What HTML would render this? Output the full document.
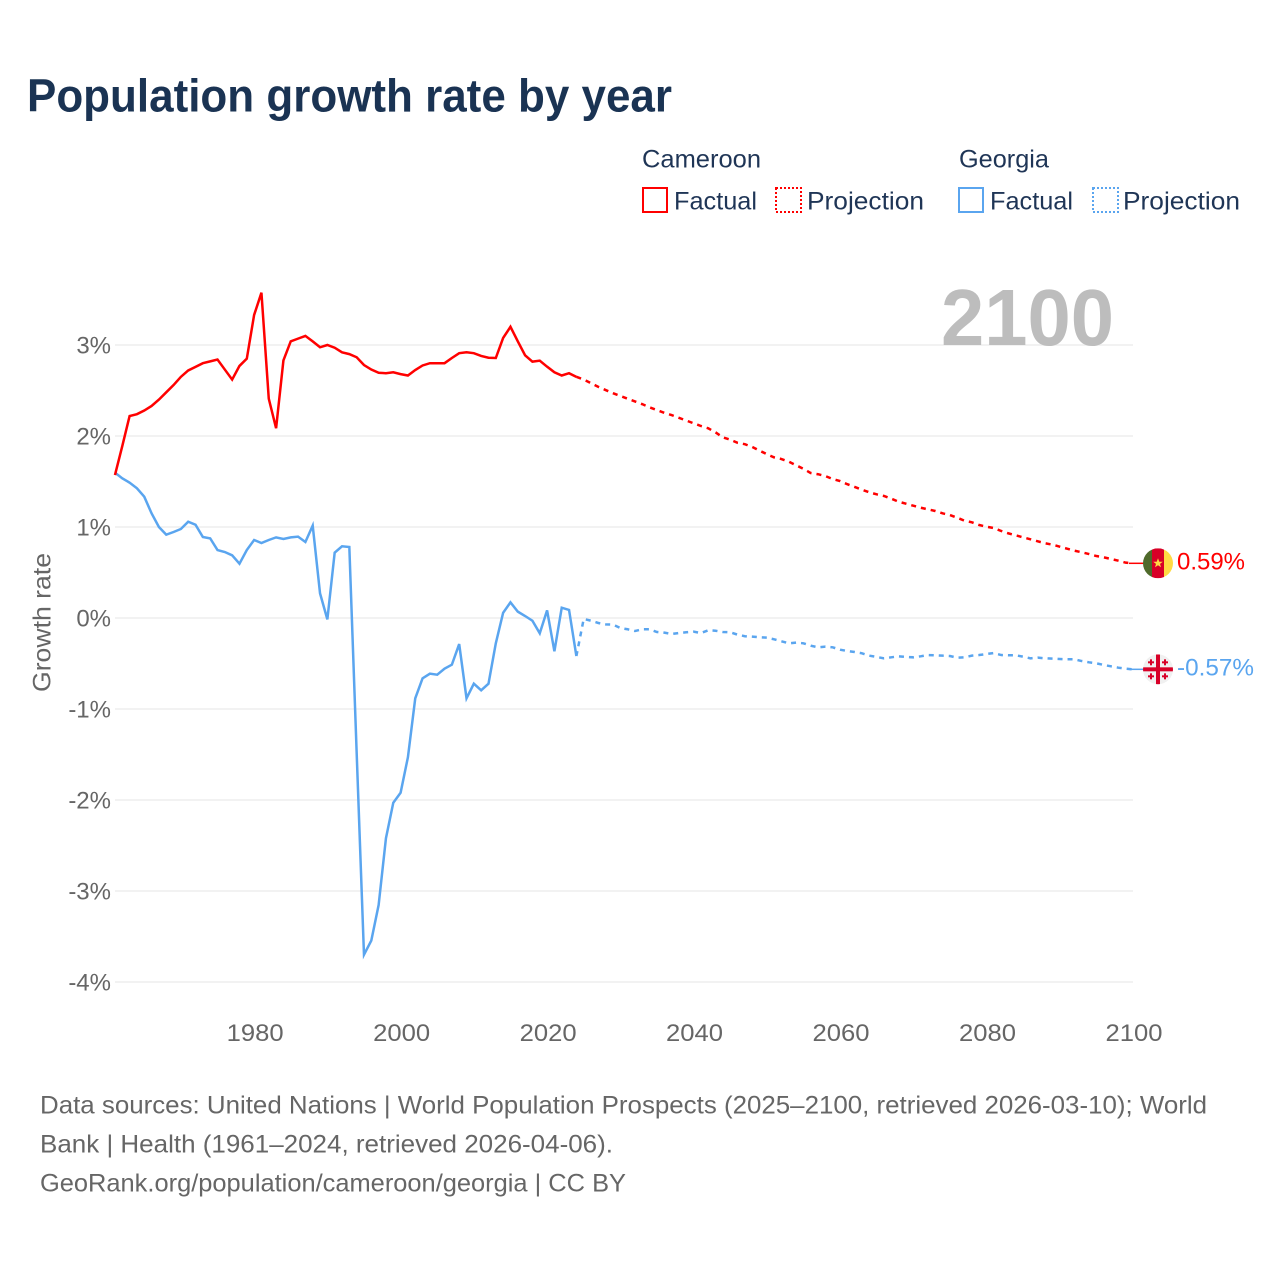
<!DOCTYPE html>
<html lang="en">
<head>
<meta charset="utf-8">
<title>Population growth rate by year</title>
<style>
html,body{margin:0;padding:0;background:#fff;width:1280px;height:1280px;overflow:hidden}
svg{display:block}
text{font-family:"Liberation Sans",sans-serif}
</style>
</head>
<body>
<svg id="chart" xmlns="http://www.w3.org/2000/svg" width="1280" height="1280" viewBox="0 0 1280 1280">
  <defs>
    <clipPath id="flag-clip-a"><circle cx="0" cy="0" r="15"/></clipPath>
  </defs>
  <rect x="0" y="0" width="1280" height="1280" fill="#ffffff"/>
  <text x="27" y="111.5" font-size="46" font-weight="700" fill="#1a3353" textLength="645" lengthAdjust="spacingAndGlyphs">Population growth rate by year</text>

  <g font-size="25" fill="#1f3556">
    <text x="642" y="167.5" textLength="119" lengthAdjust="spacingAndGlyphs">Cameroon</text>
    <text x="959" y="167.5" textLength="90" lengthAdjust="spacingAndGlyphs">Georgia</text>
    <rect x="643" y="188" width="24" height="24" fill="none" stroke="#ff0000" stroke-width="2"/>
    <text x="674" y="209.5" textLength="83" lengthAdjust="spacingAndGlyphs">Factual</text>
    <rect x="776" y="188" width="25" height="24" fill="none" stroke="#ff0000" stroke-width="2" stroke-dasharray="2 2"/>
    <text x="807" y="209.5" textLength="117" lengthAdjust="spacingAndGlyphs">Projection</text>
    <rect x="959" y="188" width="24" height="24" fill="none" stroke="#5aa5ef" stroke-width="2"/>
    <text x="990" y="209.5" textLength="83" lengthAdjust="spacingAndGlyphs">Factual</text>
    <rect x="1093" y="188" width="25" height="24" fill="none" stroke="#5aa5ef" stroke-width="2" stroke-dasharray="2 2"/>
    <text x="1123" y="209.5" textLength="117" lengthAdjust="spacingAndGlyphs">Projection</text>
  </g>

  <g id="grid"></g>
  <text x="941" y="345" font-size="80" font-weight="700" fill="#bdbdbd" textLength="173" lengthAdjust="spacingAndGlyphs">2100</text>
  <g id="y-ticks"></g>
  <g id="x-ticks"></g>
  <text transform="translate(50.5,692) rotate(-90)" x="0" y="0" font-size="25" fill="#666666" textLength="139" lengthAdjust="spacingAndGlyphs">Growth rate</text>
  <g id="series"></g>
  <g id="ends"></g>

  <g font-size="25" fill="#666666">
    <text x="40" y="1113.5" textLength="1167" lengthAdjust="spacingAndGlyphs">Data sources: United Nations | World Population Prospects (2025–2100, retrieved 2026-03-10); World</text>
    <text x="40" y="1152.5" textLength="573" lengthAdjust="spacingAndGlyphs">Bank | Health (1961–2024, retrieved 2026-04-06).</text>
    <text x="40" y="1191.5" textLength="586" lengthAdjust="spacingAndGlyphs">GeoRank.org/population/cameroon/georgia | CC BY</text>
  </g>
</svg>
<script>
const xTickYears = [1980, 2000, 2020, 2040, 2060, 2080, 2100];
const yTickValues = [3, 2, 1, 0, -1, -2, -3, -4];
const firstFactualYear = 1961;
const firstProjectionYear = 2024;
const endLabels = ["0.59%", "-0.57%"];

const cameroonFactual = [
  1.571, 1.89, 2.22, 2.24, 2.28, 2.33, 2.40, 2.48, 2.56,
  2.65, 2.72, 2.76, 2.80, 2.82, 2.84, 2.73, 2.62, 2.77, 2.85,
  3.33, 3.575, 2.41, 2.085, 2.83, 3.04, 3.07, 3.10, 3.04, 2.975,
  3.00, 2.97, 2.92, 2.90, 2.865, 2.78, 2.73, 2.695, 2.69, 2.70,
  2.68, 2.665, 2.725, 2.775, 2.80, 2.80, 2.80, 2.857, 2.91, 2.92,
  2.91, 2.88, 2.86, 2.857, 3.077, 3.20, 3.04, 2.887, 2.817, 2.828,
  2.762, 2.70, 2.665, 2.69, 2.65
];
const cameroonProjection = [
  2.65, 2.62, 2.58, 2.54, 2.505, 2.47, 2.44,
  2.41, 2.38, 2.35, 2.315, 2.285, 2.255, 2.23, 2.2, 2.17, 2.14,
  2.11, 2.085, 2.04, 1.985, 1.96, 1.925, 1.91, 1.88, 1.84, 1.80,
  1.765, 1.747, 1.718, 1.678, 1.64, 1.593, 1.58, 1.56, 1.527, 1.505,
  1.47, 1.44, 1.41, 1.381, 1.359, 1.341, 1.311, 1.278, 1.256, 1.234,
  1.212, 1.194, 1.176, 1.15, 1.132, 1.102, 1.069, 1.052, 1.022, 1.003,
  0.989, 0.956, 0.93, 0.908, 0.886, 0.865, 0.843, 0.821, 0.806, 0.784,
  0.762, 0.74, 0.722, 0.703, 0.681, 0.667, 0.648, 0.63, 0.608, 0.601
];
const georgiaFactual = [
  1.597, 1.535, 1.487, 1.425, 1.333, 1.15, 1.0, 0.916, 0.945,
  0.978, 1.058, 1.025, 0.89, 0.875, 0.747, 0.725, 0.689, 0.597, 0.747,
  0.857, 0.824, 0.857, 0.886, 0.868, 0.886, 0.894, 0.835, 1.015, 0.271,
  -0.015, 0.718, 0.788, 0.78, -1.48, -3.70, -3.545, -3.154, -2.42, -2.03,
  -1.92, -1.53, -0.883, -0.663, -0.612, -0.623, -0.557, -0.513, -0.286, -0.883,
  -0.722, -0.795, -0.722, -0.278, 0.058, 0.172, 0.07, 0.022, -0.03, -0.168,
  0.084, -0.366, 0.113, 0.088, -0.418
];
const georgiaProjection = [
  -0.418, -0.01, -0.03, -0.055, -0.07, -0.073, -0.11,
  -0.124, -0.143, -0.124, -0.124, -0.154, -0.161, -0.176, -0.165, -0.157, -0.15,
  -0.165, -0.135, -0.14, -0.154, -0.157, -0.183, -0.2, -0.205, -0.212, -0.216,
  -0.234, -0.256, -0.278, -0.27, -0.278, -0.304, -0.322, -0.315, -0.322, -0.348,
  -0.363, -0.374, -0.388, -0.414, -0.428, -0.443, -0.432, -0.421, -0.428, -0.432,
  -0.421, -0.407, -0.41, -0.414, -0.418, -0.436, -0.432, -0.414, -0.407, -0.396,
  -0.385, -0.407, -0.41, -0.41, -0.425, -0.443, -0.436, -0.443, -0.447, -0.451,
  -0.454, -0.454, -0.473, -0.487, -0.498, -0.516, -0.531, -0.546, -0.557, -0.564
];

const NS = "http://www.w3.org/2000/svg";
function xScale(year) { return 1133 + (year - 2100) * 7.324; }
function yScale(value) { return 618 - value * 91; }
function make(parent, tag, attrs) {
  const el = document.createElementNS(NS, tag);
  for (const k in attrs) el.setAttribute(k, attrs[k]);
  parent.appendChild(el);
  return el;
}
function linePoints(values, startYear) {
  return values.map(function (v, i) {
    return xScale(startYear + i).toFixed(2) + "," + yScale(v).toFixed(2);
  }).join(" ");
}

const gridGroup = document.getElementById("grid");
const yTickGroup = document.getElementById("y-ticks");
yTickValues.forEach(function (v) {
  const line = make(gridGroup, "line", { x1: 115, x2: 1133, y1: yScale(v), y2: yScale(v), stroke: "#eeeeee", "stroke-width": 1.5 });
  
  
  const label = make(yTickGroup, "text", { x: 111, y: yScale(v) + 8.5, "text-anchor": "end", "font-size": 24, fill: "#666666" });
  label.textContent = v + "%";
  
  
});

const xTickGroup = document.getElementById("x-ticks");
xTickYears.forEach(function (year) {
  const label = make(xTickGroup, "text", { x: xScale(year) - 27.5, y: 1041, "font-size": 24.5, fill: "#666666", textLength: 57, lengthAdjust: "spacingAndGlyphs" });
  label.textContent = String(year);
  
  
});

const seriesGroup = document.getElementById("series");
const redColor = "#ff0000";
const blueColor = "#5aa5ef";

const blueFact = make(seriesGroup, "polyline", { points: linePoints(georgiaFactual, firstFactualYear), fill: "none", stroke: blueColor, "stroke-width": 2.5, "stroke-linejoin": "miter" });


const bluePro = make(seriesGroup, "polyline", { points: linePoints(georgiaProjection, firstProjectionYear), fill: "none", stroke: blueColor, "stroke-width": 2.5, "stroke-dasharray": "5 5" });


const redFact = make(seriesGroup, "polyline", { points: linePoints(cameroonFactual, firstFactualYear), fill: "none", stroke: redColor, "stroke-width": 2.5, "stroke-linejoin": "miter" });


const redPro = make(seriesGroup, "polyline", { points: linePoints(cameroonProjection, firstProjectionYear), fill: "none", stroke: redColor, "stroke-width": 2.5, "stroke-dasharray": "5 5" });



const endsGroup = document.getElementById("ends");
const redEndY = yScale(cameroonProjection[cameroonProjection.length - 1]);
const blueEndY = yScale(georgiaProjection[georgiaProjection.length - 1]);

const redConn = make(endsGroup, "line", { x1: 1129, x2: 1144, y1: redEndY, y2: redEndY, stroke: redColor, "stroke-width": 1.5 });


const blueConn = make(endsGroup, "line", { x1: 1129, x2: 1144, y1: blueEndY, y2: blueEndY, stroke: blueColor, "stroke-width": 1.5 });



const redFlag = make(endsGroup, "g", { transform: "translate(1158," + redEndY + ")", "clip-path": "url(#flag-clip-a)" });


make(redFlag, "rect", { x: -15, y: -15, width: 9, height: 30, fill: "#4f6a2b" });
make(redFlag, "rect", { x: -6, y: -15, width: 12, height: 30, fill: "#d80027" });
make(redFlag, "rect", { x: 6, y: -15, width: 9, height: 30, fill: "#ffda44" });
make(redFlag, "polygon", { points: "0,-5 1.3,-1.6 4.8,-1.6 2,0.6 3,4 0,2 -3,4 -2,0.6 -4.8,-1.6 -1.3,-1.6", fill: "#ffda44" });

const blueFlag = make(endsGroup, "g", { transform: "translate(1158," + blueEndY + ")", "clip-path": "url(#flag-clip-a)" });


make(blueFlag, "rect", { x: -15, y: -15, width: 30, height: 30, fill: "#f0f0f0" });
make(blueFlag, "rect", { x: -2, y: -15, width: 4, height: 30, fill: "#d80027" });
make(blueFlag, "rect", { x: -15, y: -2, width: 30, height: 4, fill: "#d80027" });
[[-7, -7], [7, -7], [-7, 7], [7, 7]].forEach(function (c) {
  make(blueFlag, "rect", { x: c[0] - 1, y: c[1] - 3, width: 2, height: 6, fill: "#d80027" });
  make(blueFlag, "rect", { x: c[0] - 3, y: c[1] - 1, width: 6, height: 2, fill: "#d80027" });
});

const redLabel = make(endsGroup, "text", { x: 1177, y: redEndY + 6, "font-size": 24.5, fill: redColor, textLength: 68, lengthAdjust: "spacingAndGlyphs" });
redLabel.textContent = endLabels[0];


const blueLabel = make(endsGroup, "text", { x: 1177, y: blueEndY + 6, "font-size": 24.5, fill: blueColor, textLength: 77, lengthAdjust: "spacingAndGlyphs" });
blueLabel.textContent = endLabels[1];


</script>
</body>
</html>
